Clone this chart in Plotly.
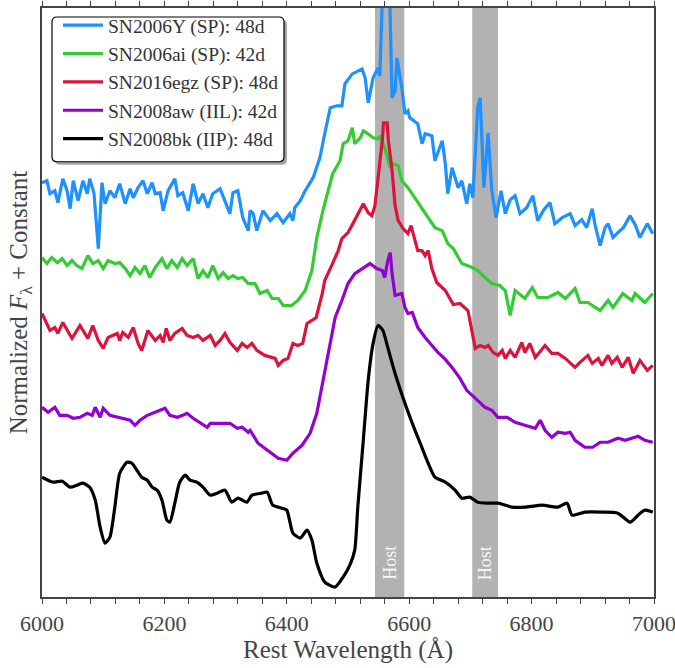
import plotly.graph_objects as go

# ---------------- data (rest wavelength in Angstrom, normalized flux + constant) -------------
wl_06Y = [6000,6008,6013,6021,6026,6034,6041,6046,6051,6059,
          6067,6074,6078,6085,6092,6098,6103,6111,6119,6127,
          6136,6144,6149,6157,6165,6172,6180,6185,6193,6198,
          6206,6217,6222,6230,6239,6247,6255,6263,6271,6279,
          6291,6299,6307,6312,6320,6328,6337,6340,6345,6351,
          6361,6373,6384,6394,6405,6410,6413,6422,6430,6443,
          6454,6462,6471,6482,6490,6495,6507,6523,6528,6533,
          6541,6549,6552,6557,6562,6568,6572,6577,6580,6588,
          6593,6598,6601,6614,6621,6626,6637,6642,6654,6659,
          6663,6670,6680,6686,6694,6699,6704,6712,6716,6722,
          6729,6735,6742,6750,6757,6765,6773,6781,6792,6802,
          6810,6820,6830,6838,6850,6863,6871,6882,6890,6899,
          6904,6912,6920,6925,6933,6941,6950,6961,6970,6977,
          6989,6998]
fl_06Y = [4.15,4.17,4.04,4.07,3.95,4.19,4.07,3.89,4.17,3.97,
          4.17,4.04,4.19,4.04,3.49,4.15,3.94,4.07,4.00,4.14,
          3.94,4.09,4.00,4.10,4.17,4.04,4.15,4.04,4.05,3.87,
          4.07,4.19,4.02,4.05,3.87,4.14,3.94,4.04,3.90,4.04,
          4.09,3.97,3.84,4.05,4.07,3.80,3.67,3.87,3.84,3.67,
          3.87,3.77,3.84,3.75,3.84,3.77,3.90,3.97,4.07,4.20,
          4.40,4.64,4.90,4.92,4.92,5.14,5.24,5.29,5.20,4.95,
          5.20,5.30,5.22,6.17,6.37,6.07,5.00,5.07,5.40,5.10,
          4.84,4.87,4.80,4.74,4.54,4.64,4.62,4.37,4.57,4.34,
          4.04,4.30,4.10,4.17,3.94,4.14,4.00,4.90,5.00,4.10,
          4.65,4.07,3.80,4.07,3.84,3.98,4.02,3.84,3.90,4.02,
          3.77,3.88,3.95,3.74,3.80,3.84,3.72,3.78,3.70,3.89,
          3.72,3.52,3.70,3.74,3.60,3.65,3.70,3.82,3.72,3.60,
          3.74,3.64]

wl_06ai = [6000,6008,6016,6025,6033,6041,6049,6057,6065,6075,
           6083,6092,6100,6108,6119,6127,6136,6144,6152,6160,
           6168,6176,6185,6196,6204,6212,6221,6229,6237,6247,
           6255,6263,6271,6279,6288,6296,6304,6312,6320,6328,
           6337,6348,6356,6368,6376,6386,6394,6408,6418,6430,
           6441,6449,6459,6467,6475,6487,6492,6500,6507,6511,
           6520,6525,6533,6541,6549,6552,6560,6569,6574,6582,
           6588,6598,6609,6621,6631,6642,6654,6663,6672,6686,
           6703,6712,6724,6735,6748,6757,6765,6773,6789,6801,
           6810,6827,6843,6855,6871,6879,6892,6912,6925,6933,
           6949,6964,6969,6985,6998]
fl_06ai = [3.40,3.34,3.40,3.35,3.39,3.32,3.37,3.32,3.29,3.42,
           3.34,3.37,3.29,3.37,3.34,3.35,3.29,3.22,3.30,3.24,
           3.32,3.20,3.30,3.39,3.29,3.37,3.30,3.39,3.32,3.39,
           3.19,3.27,3.20,3.32,3.19,3.25,3.19,3.22,3.19,3.20,
           3.14,3.14,3.04,3.07,2.99,2.99,2.92,2.92,2.97,3.07,
           3.27,3.60,3.87,4.07,4.24,4.37,4.54,4.57,4.70,4.54,
           4.60,4.67,4.64,4.60,4.59,4.62,4.50,4.30,4.34,4.32,
           4.17,4.10,4.00,3.90,3.80,3.70,3.67,3.54,3.49,3.34,
           3.30,3.27,3.20,3.14,3.12,3.07,2.82,3.07,2.99,3.10,
           3.00,3.00,3.05,2.99,3.09,2.95,2.95,2.87,2.97,2.90,
           3.04,2.97,3.04,2.95,3.04]

wl_16egz = [6000,6013,6021,6026,6034,6049,6062,6075,6083,6092,
            6100,6108,6123,6127,6132,6141,6149,6157,6163,6173,
            6185,6193,6198,6203,6209,6217,6229,6237,6247,6255,
            6263,6275,6283,6291,6299,6307,6319,6327,6335,6343,
            6351,6364,6381,6386,6394,6402,6410,6418,6426,6433,
            6441,6448,6458,6462,6474,6484,6490,6500,6508,6516,
            6525,6533,6539,6544,6549,6556,6558,6564,6566,6572,
            6577,6582,6590,6598,6603,6609,6614,6621,6626,6631,
            6637,6645,6659,6672,6683,6696,6704,6708,6716,6724,
            6729,6737,6745,6752,6757,6765,6773,6784,6789,6797,
            6806,6822,6833,6843,6855,6871,6879,6892,6899,6909,
            6915,6925,6931,6940,6948,6958,6966,6977,6989,6998]
fl_16egz = [2.84,2.67,2.70,2.64,2.75,2.59,2.72,2.59,2.72,2.57,
            2.49,2.60,2.64,2.57,2.65,2.60,2.70,2.54,2.47,2.67,
            2.57,2.62,2.55,2.69,2.57,2.64,2.69,2.62,2.60,2.62,
            2.57,2.62,2.52,2.57,2.64,2.55,2.47,2.54,2.50,2.54,
            2.47,2.42,2.39,2.32,2.37,2.39,2.54,2.52,2.54,2.74,
            2.77,2.80,3.04,3.17,3.33,3.47,3.59,3.65,3.74,3.84,
            3.94,3.85,3.82,3.92,4.17,4.57,4.75,4.75,4.57,4.27,
            3.92,3.77,3.69,3.64,3.72,3.59,3.47,3.47,3.42,3.47,
            3.29,3.15,3.07,2.93,2.94,2.87,2.64,2.49,2.52,2.50,
            2.52,2.45,2.42,2.47,2.39,2.47,2.40,2.55,2.45,2.54,
            2.40,2.52,2.44,2.44,2.39,2.30,2.35,2.42,2.34,2.39,
            2.32,2.42,2.34,2.40,2.30,2.40,2.24,2.37,2.27,2.32]

wl_08aw = [6000,6010,6021,6029,6041,6051,6062,6074,6082,6087,
           6095,6100,6111,6123,6132,6144,6152,6160,6172,6181,
           6193,6201,6209,6221,6230,6237,6247,6258,6270,6275,
           6291,6307,6319,6327,6337,6340,6353,6369,6386,6400,
           6410,6425,6438,6449,6459,6471,6479,6490,6500,6511,
           6523,6536,6547,6556,6560,6565,6569,6572,6577,6588,
           6593,6598,6605,6614,6626,6637,6647,6659,6670,6683,
           6694,6703,6712,6724,6735,6745,6760,6773,6789,6806,
           6814,6822,6833,6843,6855,6863,6871,6887,6900,6912,
           6925,6941,6953,6964,6974,6985,6998]
fl_08aw = [1.90,1.85,1.90,1.82,1.82,1.79,1.80,1.84,1.82,1.90,
           1.80,1.89,1.82,1.80,1.79,1.77,1.72,1.77,1.82,1.84,
           1.87,1.89,1.82,1.80,1.82,1.84,1.79,1.75,1.70,1.74,
           1.74,1.74,1.69,1.70,1.65,1.67,1.54,1.47,1.39,1.37,
           1.44,1.52,1.64,1.84,2.17,2.54,2.80,2.97,3.14,3.24,
           3.29,3.34,3.29,3.27,3.20,3.37,3.45,3.24,3.02,3.04,
           2.90,2.84,2.85,2.70,2.60,2.52,2.45,2.38,2.30,2.19,
           2.07,2.02,1.97,1.90,1.87,1.80,1.80,1.75,1.72,1.69,
           1.77,1.67,1.60,1.65,1.64,1.65,1.57,1.50,1.50,1.55,
           1.55,1.59,1.57,1.59,1.61,1.57,1.55]

wl_08bk = [6000,6018,6033,6046,6057,6067,6078,6087,6095,6103,
           6111,6119,6127,6139,6147,6155,6163,6172,6180,6188,
           6196,6204,6209,6217,6225,6234,6242,6253,6263,6275,
           6286,6299,6310,6320,6335,6343,6359,6368,6377,6392,
           6400,6410,6422,6433,6441,6449,6462,6479,6492,6503,
           6511,6516,6525,6533,6541,6549,6557,6565,6574,6582,
           6593,6605,6618,6631,6642,6659,6675,6686,6699,6712,
           6729,6745,6768,6789,6817,6843,6858,6866,6887,6915,
           6941,6961,6974,6985,6998]
fl_08bk = [1.20,1.15,1.16,1.10,1.12,1.14,1.10,0.97,0.70,0.54,
           0.60,0.90,1.24,1.35,1.34,1.27,1.20,1.17,1.10,1.07,
           0.97,0.77,0.75,0.94,1.15,1.22,1.17,1.15,1.10,1.02,
           1.04,1.07,0.95,0.99,0.95,1.02,1.04,1.05,0.92,0.89,
           0.87,0.64,0.59,0.67,0.57,0.34,0.15,0.10,0.20,0.32,
           0.47,0.90,1.57,2.17,2.54,2.72,2.67,2.50,2.30,2.14,
           1.94,1.74,1.54,1.34,1.20,1.15,1.07,0.99,1.00,0.95,
           0.94,0.94,0.90,0.90,0.92,0.90,0.94,0.82,0.85,0.85,
           0.84,0.75,0.82,0.87,0.85]

labels = ["SN2006Y (SP): 48d", "SN2006ai (SP): 42d", "SN2016egz (SP): 48d",
          "SN2008aw (IIL): 42d", "SN2008bk (IIP): 48d"]
host_bands = [(6544, 6592), (6703, 6745)]

# ---------------- styling ----------------
colors = ["#1E90FF", "#32CD32", "#DC143C", "#9400D3", "#000000"]
FONT = "Liberation Serif"
TXT = "#444444"

series = [(wl_06Y, fl_06Y), (wl_06ai, fl_06ai), (wl_16egz, fl_16egz),
          (wl_08aw, fl_08aw), (wl_08bk, fl_08bk)]

fig = go.Figure()
for i, ((wl, fl), lab, col) in enumerate(zip(series, labels, colors)):
    line = dict(color=col, width=3.2)
    if i == 4:
        line.update(shape="spline", smoothing=0.6)
    fig.add_trace(go.Scatter(x=wl, y=fl, mode="lines", name=lab, line=line))

shapes = []
for (a, b) in host_bands:
    shapes.append(dict(type="rect", xref="x", yref="paper", x0=a, x1=b, y0=0, y1=1,
                       fillcolor="#b2b2b2", line=dict(width=0), layer="below"))

# plot area in pixels
L, R, T, B = 42, 654, 7, 597
W, H = 675, 668


def px2paper(px, py):
    return (px - L) / (R - L), (B - py) / (B - T)


def rounded(x0, y0, x1, y1, r):
    rx = r / (R - L)
    ry = r / (B - T)
    a0, b1 = px2paper(x0, y0)
    a1, b0 = px2paper(x1, y1)
    return (f"M{a0+rx},{b1} L{a1-rx},{b1} Q{a1},{b1} {a1},{b1-ry} "
            f"L{a1},{b0+ry} Q{a1},{b0} {a1-rx},{b0} L{a0+rx},{b0} "
            f"Q{a0},{b0} {a0},{b0+ry} L{a0},{b1-ry} Q{a0},{b1} {a0+rx},{b1} Z")


shapes.append(dict(type="path", xref="paper", yref="paper", path=rounded(55, 19, 287, 164, 5),
                   fillcolor="rgba(0,0,0,0.35)", line=dict(width=0), layer="above"))
shapes.append(dict(type="path", xref="paper", yref="paper", path=rounded(52, 16, 284, 161, 5),
                   fillcolor="white", line=dict(color="black", width=1.2), layer="above"))

annotations = []
for (a, b) in host_bands:
    annotations.append(dict(x=(a + b) / 2, y=0.34, xref="x", yref="y", text="Host",
                            textangle=-90, showarrow=False, xanchor="center", yanchor="middle",
                            font=dict(family=FONT, size=18, color="rgba(255,255,255,0.92)")))

lx, ly = px2paper(58, 6)
fig.update_layout(
    width=W, height=H,
    margin=dict(l=L, r=W - R, t=T, b=H - B),
    paper_bgcolor="white", plot_bgcolor="white",
    showlegend=True,
    legend=dict(x=lx, y=ly, xanchor="left", yanchor="top", bgcolor="rgba(0,0,0,0)",
                borderwidth=0, font=dict(family=FONT, size=19.5, color="#333333"),
                itemwidth=40),
    shapes=shapes,
    annotations=annotations,
    font=dict(family=FONT, color=TXT),
)

fig.update_xaxes(range=[6000, 7000], tickmode="linear", tick0=6000, dtick=200,
                 ticks="outside", ticklen=5, tickwidth=1.2, automargin=False,
                 tickcolor="#444", showline=True, linecolor="#444", linewidth=1.5, mirror="ticks",
                 showgrid=False, zeroline=False, ticklabeloverflow="allow",
                 minor=dict(dtick=40, tick0=6000, ticks="outside", ticklen=5, tickwidth=1.2,
                            tickcolor="#444", showgrid=False),
                 tickfont=dict(family=FONT, size=22, color=TXT), ticklabelstandoff=1,
                 title=dict(text="Rest Wavelength (Å)", font=dict(family=FONT, size=25, color=TXT),
                            standoff=4))
fig.update_yaxes(range=[0, 5.9], showticklabels=False, ticks="", showline=True, linecolor="#444",
                 linewidth=1.5, mirror=True, showgrid=False, zeroline=False, automargin=False,
                 title=dict(text="Normalized <i>F</i><sub>λ</sub> + Constant",
                            font=dict(family=FONT, size=25, color=TXT), standoff=6))

fig.write_html("out.html")
